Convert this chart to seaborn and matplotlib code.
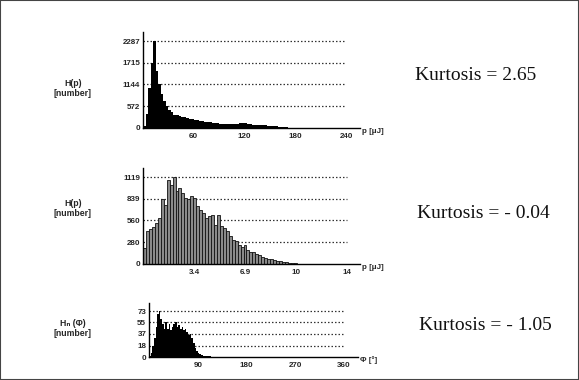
import numpy as np
import pandas as pd
import matplotlib
matplotlib.use("Agg")
import matplotlib.pyplot as plt
from matplotlib.patches import Rectangle
import seaborn as sns

# ---------------- data ----------------
# Panel 1: H(p) vs p [uJ], bin width 3 starting at 0
p1_binwidth = 3
p1_counts = [60, 380, 1050, 1700, 2287, 1500, 1150, 900, 720, 590,
             480, 410, 350, 330, 315, 300, 285, 260, 245, 230,
             215, 200, 190, 175, 165, 160, 150, 135, 125, 120,
             115, 110, 105, 100, 110, 95, 100, 115, 130, 140,
             125, 110, 95, 90, 85, 80, 75, 80, 70, 60,
             55, 45, 40, 30, 25, 18, 14, 10, 7, 5,
             4, 3, 2, 2, 1]
p1_yticks = [0, 572, 1144, 1715, 2287]
p1_xticks = [60, 120, 180, 240]
p1_xticklabels = ["60", "120", "180", "240"]

# Panel 2: H(p) vs p [uJ], bin width 0.2 starting at 0
p2_binwidth = 0.2
p2_counts = [206, 420, 450, 470, 530, 590, 830, 760, 1085, 1020,
             1119, 940, 980, 910, 850, 830, 870, 850, 745, 700,
             655, 590, 615, 635, 505, 634, 485, 465, 420, 360,
             315, 290, 250, 215, 245, 185, 160, 150, 135, 110,
             95, 80, 68, 60, 48, 42, 34, 30, 24, 18,
             13, 9, 6, 4, 3, 2]
p2_yticks = [0, 280, 560, 839, 1119]
p2_xticks = [3.45, 6.9, 10.35, 13.8]
p2_xticklabels = ["3.4", "6.9", "10", "14"]

# Panel 3: Hn(phi) vs phi [deg], bin width 3 starting at 0
p3_binwidth = 3
p3_counts = [1, 6, 17, 30, 48, 69, 73, 61, 53, 45,
             55, 44, 53, 43, 48, 53, 56, 48, 50, 45,
             48, 43, 45, 40, 35, 37, 30, 22, 14, 10,
             7, 5, 3, 2, 2, 1, 1, 1]
p3_yticks = [0, 18, 37, 55, 73]
p3_xticks = [90, 180, 270, 360]
p3_xticklabels = ["90", "180", "270", "360"]

ylabels = ["H(p)\n[number]", "H(p)\n[number]", "H\u2099 (\u03a6)\n[number]"]
xlabels = ["p [\u03bcJ]", "p [\u03bcJ]", "\u03a6 [\u00b0]"]
kurtosis = ["Kurtosis = 2.65", "Kurtosis = - 0.04", "Kurtosis = - 1.05"]

# ---------------- style ----------------
sns.set_style("white")
plt.rcParams["font.family"] = ["Liberation Sans", "DejaVu Sans"]

W, H = 579, 380
fig = plt.figure(figsize=(W / 100, H / 100), dpi=100)
fig.patch.set_facecolor("white")


def px_axes(left, right, top, bottom):
    return fig.add_axes([left / W, 1 - bottom / H, (right - left) / W, (bottom - top) / H])


panels = [
    dict(counts=p1_counts, bw=p1_binwidth, yticks=p1_yticks, xticks=p1_xticks,
         xtl=p1_xticklabels, left=143, right=360, top=32, bottom=128,
         px_per_unit=0.846, y_px=87, face="black", edge="black", lw=0.0,
         ylab_y=(84, 93), kurt_xy=(415, 75)),
    dict(counts=p2_counts, bw=p2_binwidth, yticks=p2_yticks, xticks=p2_xticks,
         xtl=p2_xticklabels, left=143, right=360, top=168, bottom=264,
         px_per_unit=14.78, y_px=87, face="#8a8a8a", edge="#111111", lw=0.6,
         ylab_y=(204, 214), kurt_xy=(417, 213)),
    dict(counts=p3_counts, bw=p3_binwidth, yticks=p3_yticks, xticks=p3_xticks,
         xtl=p3_xticklabels, left=149, right=358, top=303, bottom=357,
         px_per_unit=0.5417, y_px=46, face="black", edge="black", lw=0.0,
         ylab_y=(323, 333), kurt_xy=(419, 326)),
]

for i, p in enumerate(panels):
    ax = px_axes(p["left"], p["right"], p["top"], p["bottom"])
    n = len(p["counts"])
    centers = (np.arange(n) + 0.5) * p["bw"]
    df = pd.DataFrame({"x": centers, "w": p["counts"]})
    sns.histplot(data=df, x="x", weights="w", binwidth=p["bw"],
                 binrange=(0, n * p["bw"]), ax=ax, color=p["face"],
                 edgecolor=p["edge"], linewidth=p["lw"], alpha=1.0,
                 element="bars", fill=True)
    xmax = (p["right"] - p["left"]) / p["px_per_unit"]
    ymax = p["yticks"][-1] * (p["bottom"] - p["top"]) / p["y_px"]
    ax.set_xlim(0, xmax)
    ax.set_ylim(0, ymax)
    # dotted gridlines at the y ticks, spanning to the last x tick
    for yv in p["yticks"][1:]:
        ax.plot([0, p["xticks"][-1]], [yv, yv], linestyle=(0, (1.2, 1.6)),
                color="#333333", linewidth=0.9, zorder=0.5)
    ax.set_yticks(p["yticks"])
    ax.set_yticklabels([f"{v}" for v in p["yticks"]], fontsize=5.8,
                       fontweight="bold")
    ax.set_xticks(p["xticks"])
    ax.set_xticklabels(p["xtl"], fontsize=5.8, fontweight="bold")
    ax.tick_params(axis="y", length=0, pad=2)
    ax.tick_params(axis="x", direction="inout", length=4, width=0.8, pad=1.5)
    ax.set_ylabel("")
    ax.set_xlabel(xlabels[i], fontsize=5.8, fontweight="bold")
    ax.xaxis.set_label_coords(1.01, -0.035 * 96 / (p["bottom"] - p["top"]))
    ax.xaxis.label.set_ha("left")
    ax.xaxis.label.set_va("center")
    for s in ["top", "right"]:
        ax.spines[s].set_visible(False)
    for s in ["left", "bottom"]:
        ax.spines[s].set_color("black")
        ax.spines[s].set_linewidth(1.0)
    ax.set_facecolor("none")

    # left label
    y1, y2 = p["ylab_y"]
    lab1, lab2 = ylabels[i].split("\n")
    fig.text(73 / W, 1 - y1 / H, lab1, ha="center", va="center",
             fontsize=6.3, fontweight="bold")
    fig.text(73 / W, 1 - y2 / H, lab2, ha="center", va="center",
             fontsize=6.3, fontweight="bold")
    # kurtosis text
    kx, ky = p["kurt_xy"]
    fig.text(kx / W, 1 - ky / H, kurtosis[i], ha="left", va="center",
             fontsize=14, family=["Liberation Serif", "DejaVu Serif"],
             color="#111111")

fig.patches.append(Rectangle((0, 0), 1, 1, transform=fig.transFigure,
                             fill=False, edgecolor="#444444", linewidth=1.5))

fig.savefig("out.png", dpi=100)
